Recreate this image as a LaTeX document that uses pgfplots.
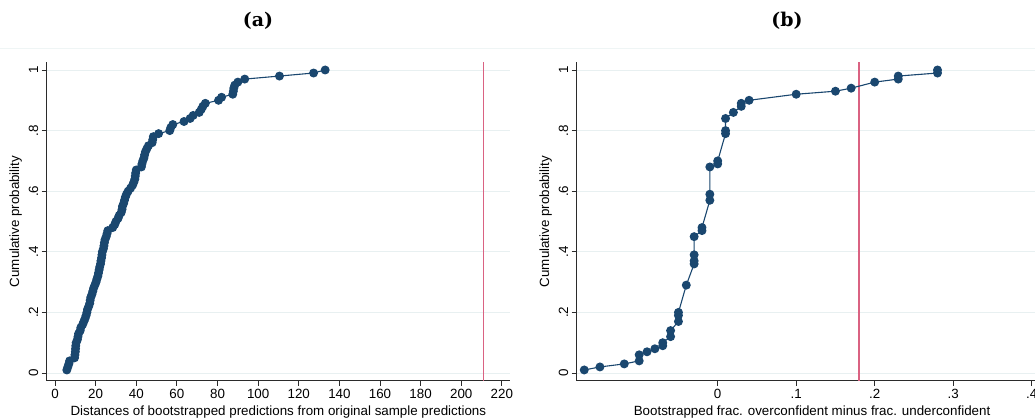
\documentclass[border=0pt]{standalone}
\usepackage{fontspec}
\setmainfont{Liberation Sans}
\newfontfamily\titlefont{DejaVu Serif}
\usepackage{pgfplots}
\pgfplotsset{compat=1.18}

\definecolor{stnavy}{HTML}{1A476F}
\definecolor{gridc}{HTML}{E8F0F1}
\definecolor{pinkline}{HTML}{DA6282}
\definecolor{axc}{HTML}{2B2B2B}

% Stata-like cdf panel
\pgfplotsset{
  cdf/.style={
    scale only axis, anchor=south west,
    axis x line*=bottom, axis y line*=left,
    axis line style={axc, line width=0.9bp},
    tick align=outside, major tick length=5bp,
    tick style={axc, line width=0.8bp},
    ymin=-0.0254, ymax=1.0254,
    ytick={0,0.2,0.4,0.6,0.8,1},
    yticklabels={0,.2,.4,.6,.8,1},
    ymajorgrids, grid style={gridc, line width=0.9bp},
    /pgf/number format/assume math mode=true,
    tick label style={font=\fontsize{13.4}{13.4}\selectfont},
    yticklabel style={rotate=90, anchor=south},
    label style={font=\fontsize{13.4}{13.4}\selectfont},
    ylabel={Cumulative probability},
    clip=false,
  },
  pts/.style={color=stnavy, line width=1.1bp, mark=*, mark size=3.9bp,
    mark options={fill=stnavy, draw=stnavy}},
  refline/.style={draw=pinkline, color=pinkline, line width=1.5bp, mark=none},
}

\begin{document}
\begin{tikzpicture}
\draw[gridc!70, line width=0.6bp] (0bp,370.7bp) -- (1035bp,370.7bp);
\node[font=\titlefont\bfseries\fontsize{19}{19}\selectfont] at (258bp,398bp) {(a)};
\node[font=\titlefont\bfseries\fontsize{19}{19}\selectfont] at (787bp,398bp) {(b)};

\begin{axis}[cdf, at={(46.7bp,38.3bp)}, width=463.3bp, height=318.4bp,
  xmin=-4.1, xmax=224,
  xtick={0,20,40,60,80,100,120,140,160,180,200,220},
  xlabel={Distances of bootstrapped predictions from original sample predictions}]
\addplot[pts] coordinates {
(5.8,0.01) (6.3,0.02) (6.8,0.03) (7.2,0.04) (9.6,0.05) (9.8,0.06) (10.0,0.07)
(10.1,0.08) (10.2,0.09) (10.4,0.10) (11.0,0.11) (11.3,0.12) (11.6,0.13)
(12.4,0.14) (12.7,0.15) (13.6,0.16) (14.2,0.17) (14.8,0.18) (15.3,0.19)
(15.7,0.20) (16.0,0.21) (16.6,0.22) (17.1,0.23) (17.3,0.24) (17.6,0.25)
(18.2,0.26) (18.6,0.27) (19.0,0.28) (19.6,0.29) (20.2,0.30) (20.6,0.31)
(21.1,0.32) (21.4,0.33) (21.7,0.34) (22.0,0.35) (22.4,0.36) (22.6,0.37)
(22.9,0.38) (23.1,0.39) (23.3,0.40) (23.8,0.41) (24.1,0.42) (24.3,0.43)
(24.6,0.44) (25.2,0.45) (25.6,0.46) (26.0,0.47) (28.4,0.48) (29.4,0.49)
(30.0,0.50) (31.0,0.51) (31.6,0.52) (32.6,0.53) (33.0,0.54) (33.2,0.55)
(33.8,0.56) (34.2,0.57) (34.6,0.58) (35.2,0.59) (36.0,0.60) (37.2,0.61)
(38.2,0.62) (38.8,0.63) (39.3,0.64) (39.5,0.65) (39.7,0.66) (40.0,0.67)
(42.5,0.68) (42.8,0.69) (43.2,0.70) (43.8,0.71) (44.1,0.72) (44.5,0.73)
(45.2,0.74) (46.0,0.75) (47.8,0.76) (48.1,0.77) (48.4,0.78) (51.0,0.79)
(56.5,0.80) (57.0,0.81) (58.0,0.82) (63.5,0.83) (66.5,0.84) (68.0,0.85)
(71.0,0.86) (72.0,0.87) (72.8,0.88) (74.0,0.89) (80.5,0.90) (82.0,0.91)
(87.5,0.92) (87.8,0.93) (88.0,0.94) (88.5,0.95) (90.0,0.96) (93.4,0.97)
(110.5,0.98) (127.3,0.99) (133.0,1.00)};
\addplot[refline] coordinates {(210.9,-0.0254) (210.9,1.0254)};
\end{axis}

\begin{axis}[cdf, at={(576.7bp,38.3bp)}, width=470.7bp, height=318.4bp,
  xmin=-0.1796, xmax=0.42, xtick={0,0.1,0.2,0.3,0.4},
  xticklabels={0,.1,.2,.3,.4},
  xlabel={Bootstrapped frac. overconfident minus frac. underconfident}]
\addplot[refline] coordinates {(0.18,-0.0254) (0.18,1.0254)};
\addplot[pts] coordinates {
(-0.170,0.01) (-0.150,0.02) (-0.119,0.03) (-0.100,0.04) (-0.100,0.06)
(-0.090,0.07) (-0.080,0.08) (-0.070,0.09) (-0.070,0.10) (-0.060,0.12)
(-0.060,0.14) (-0.050,0.17) (-0.050,0.19) (-0.050,0.20) (-0.040,0.29)
(-0.030,0.36) (-0.030,0.37) (-0.030,0.39) (-0.030,0.45) (-0.020,0.47)
(-0.020,0.48) (-0.010,0.57) (-0.010,0.59) (-0.010,0.68) (0.000,0.69)
(0.000,0.70) (0.010,0.79) (0.010,0.80) (0.010,0.84) (0.020,0.86)
(0.030,0.88) (0.030,0.89) (0.040,0.90) (0.100,0.92) (0.150,0.93)
(0.170,0.94) (0.200,0.96) (0.230,0.97) (0.230,0.98) (0.280,0.99)
(0.280,1.00)};
\end{axis}
\pgfresetboundingbox
\path[use as bounding box] (0bp,0bp) rectangle (1035bp,419bp);
\end{tikzpicture}
\end{document}
